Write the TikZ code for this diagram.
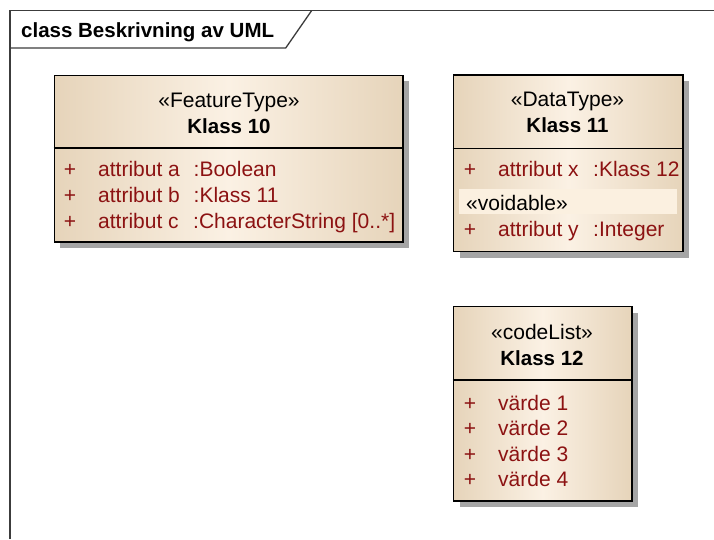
\documentclass[tikz,border=0pt]{standalone}
\usepackage{fontspec}
\setmainfont{Liberation Sans}
\usetikzlibrary{shadows}
\definecolor{attrred}{RGB}{140,18,18}
\definecolor{tanedge}{RGB}{230,212,186}
\definecolor{tanmid}{RGB}{251,241,228}
\definecolor{framegray}{RGB}{60,60,60}
\definecolor{shadowgray}{RGB}{165,165,165}
\definecolor{voidfill}{RGB}{251,240,224}
\tikzset{
  classbox/.style={draw=black, line width=1.6pt, anchor=north west, inner sep=0pt,
    left color=tanedge, right color=tanedge, middle color=tanmid,
    drop shadow={shadow xshift=6pt, shadow yshift=-6pt, fill=shadowgray, opacity=1}},
  stereo/.style={font=\fontsize{21}{24}\selectfont, anchor=base, inner sep=0pt},
  cname/.style={font=\bfseries\fontsize{20.5}{24}\selectfont, anchor=base, inner sep=0pt},
  attr/.style={font=\fontsize{21}{24}\selectfont, text=attrred, anchor=base west, inner sep=0pt},
  plus/.style={font=\fontsize{21}{24}\selectfont, text=attrred, anchor=base, inner sep=0pt},
  sep/.style={draw=black, line width=1.3pt},
  framestyle/.style={draw=framegray, line width=1.3pt},
}
\begin{document}
\begin{tikzpicture}[x=1pt,y=-1pt]
\useasboundingbox (0,0) rectangle (714,539);
\fill[white] (0,0) rectangle (714,539);
% frame
\draw[framestyle] (10,539) -- (10,10.5) -- (714,10.5);
\draw[framestyle] (10,48) -- (285.7,48) -- (311.7,10.5);
\node[font=\bfseries\fontsize{20.5}{24}\selectfont, anchor=base west, inner sep=0pt] (title) at (21,37.3) {class Beskrivning av UML};

% Klass 10
\node[classbox, minimum width=348.5pt, minimum height=166.5pt] (k10) at (53.5,74.5) {};
\draw[sep] (53.5,148) -- (402,148);
\node[stereo] (k10s) at (229,107.5) {«FeatureType»};
\node[cname] (k10n) at (229,133.3) {Klass 10};
\node[plus] (k10p1) at (70,176) {+};
\node[plus] (k10p2) at (70,202) {+};
\node[plus] (k10p3) at (70,228) {+};
\node[attr] (k10a1) at (98,176) {attribut a};
\node[attr] (k10a2) at (98,202) {attribut b};
\node[attr] (k10a3) at (98,228) {attribut c};
\node[attr] (k10t1) at (193.5,176) {:Boolean};
\node[attr] (k10t2) at (193.5,202) {:Klass 11};
\node[attr] (k10t3) at (193,228) {:CharacterString [0..*]};

% Klass 11
\node[classbox, minimum width=229.5pt, minimum height=176.5pt] (k11) at (452.7,74.3) {};
\draw[sep] (452.7,148.7) -- (682.2,148.7);
\fill[voidfill] (459,189.3) rectangle (676.7,214.3);
\node[stereo] (k11s) at (567.5,106.7) {«DataType»};
\node[cname] (k11n) at (567.5,132.7) {Klass 11};
\node[plus] (k11p1) at (470,176.7) {+};
\node[attr] (k11a1) at (498,176.7) {attribut x};
\node[attr] (k11t1) at (593,176.7) {:Klass 12};
\node[attr, text=black] (k11v) at (466,210.7) {«voidable»};
\node[plus] (k11p2) at (470,236.7) {+};
\node[attr] (k11a2) at (498,236.7) {attribut y};
\node[attr] (k11t2) at (593,236.7) {:Integer};

% Klass 12
\node[classbox, minimum width=178.3pt, minimum height=194.3pt] (k12) at (452.7,305.7) {};
\draw[sep] (452.7,380) -- (631,380);
\node[stereo] (k12s) at (542,339) {«codeList»};
\node[cname] (k12n) at (542,365.7) {Klass 12};
\node[plus] (k12p1) at (470,410) {+};
\node[plus] (k12p2) at (470,435.7) {+};
\node[plus] (k12p3) at (470,461) {+};
\node[plus] (k12p4) at (470,486.7) {+};
\node[attr] (k12a1) at (498,410) {värde 1};
\node[attr] (k12a2) at (498,435.7) {värde 2};
\node[attr] (k12a3) at (498,461) {värde 3};
\node[attr] (k12a4) at (498,486.7) {värde 4};
\end{tikzpicture}
\end{document}
